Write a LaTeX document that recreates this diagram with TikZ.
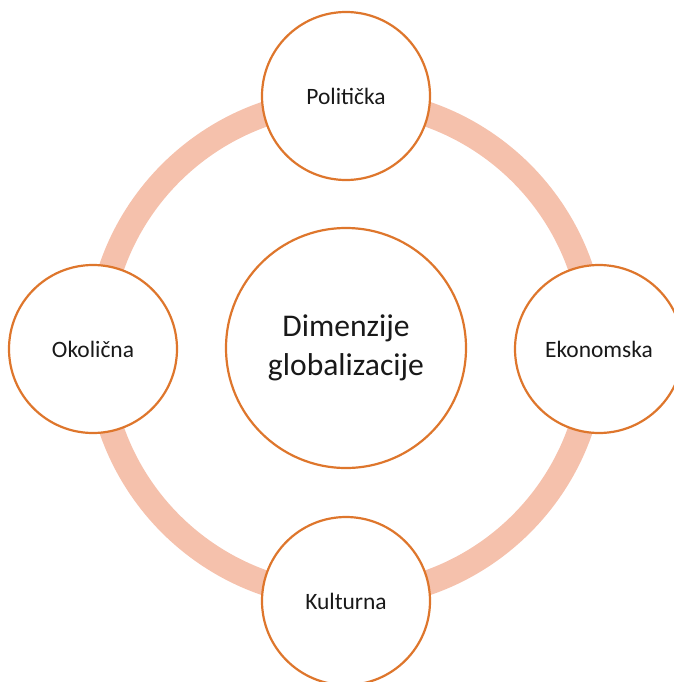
\documentclass[tikz,border=0pt]{standalone}
\usepackage{fontspec}
\setmainfont{Carlito}
\definecolor{ringpink}{RGB}{245,193,172}
\definecolor{outlineorange}{RGB}{222,118,44}
\tikzset{
  dimcircle/.style={circle, draw=outlineorange, line width=1.65pt, fill=white,
    minimum size=126pt, inner sep=0pt, font=\fontsize{17.6pt}{21pt}\selectfont, text=black!90},
  centercircle/.style={circle, draw=outlineorange, line width=1.65pt, fill=white,
    minimum size=180pt, inner sep=0pt, align=center,
    font=\fontsize{23.7pt}{29pt}\selectfont, text=black!90},
  ring/.style={draw=ringpink, line width=18.75pt}
}
\begin{document}
\begin{tikzpicture}[x=0.75pt,y=-0.75pt]
\useasboundingbox (0,0) rectangle (674,682);
\coordinate (hub) at (346,348.5);
\draw[ring] (hub) circle[radius=248];
\node[centercircle] (c) at (346,348) {Dimenzije\\globalizacije};
\node[dimcircle] (pol) at (346,96) {Politička};
\node[dimcircle] (eko) at (599,349) {Ekonomska};
\node[dimcircle] (kul) at (346,601) {Kulturna};
\node[dimcircle] (oko) at (93,349) {Okolična};
\end{tikzpicture}
\end{document}
